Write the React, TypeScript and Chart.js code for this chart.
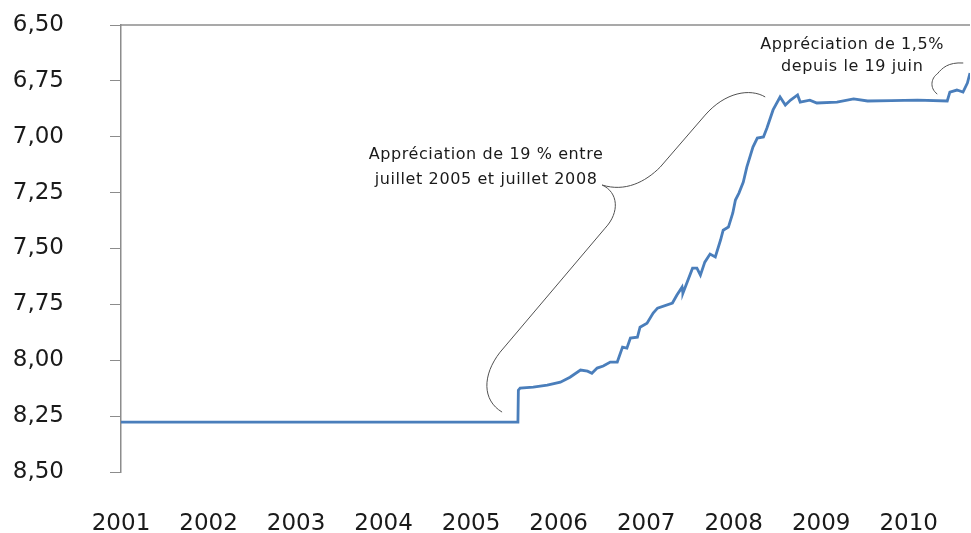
import React, { useEffect, useRef } from "react";
import { Chart, registerables } from "chart.js";

Chart.register(...registerables);

// Daily USD/CNY fixing (decimal year, yuan per dollar)
const years = [
  2001.0, 2002.0, 2003.0, 2004.0, 2005.0, 2005.535,
  2005.54, 2005.56, 2005.71, 2005.87, 2006.02, 2006.13, 2006.25, 2006.33, 2006.38, 2006.44,
  2006.51, 2006.59, 2006.67, 2006.73, 2006.78, 2006.82, 2006.9, 2006.93, 2007.01, 2007.08,
  2007.13, 2007.3, 2007.35, 2007.41, 2007.42, 2007.53, 2007.58, 2007.62, 2007.67, 2007.73,
  2007.79, 2007.85, 2007.88, 2007.94, 2007.99, 2008.02, 2008.06, 2008.11, 2008.15, 2008.22,
  2008.27, 2008.34, 2008.38, 2008.45, 2008.53, 2008.59, 2008.65, 2008.73, 2008.76, 2008.87,
  2008.95, 2009.18, 2009.37, 2009.53, 2009.8, 2010.1, 2010.44, 2010.47, 2010.55, 2010.62,
  2010.67, 2010.7,
];
const rates = [
  8.277, 8.277, 8.277, 8.277, 8.277, 8.277,
  8.134, 8.125, 8.12, 8.111, 8.098, 8.076, 8.044, 8.049, 8.058, 8.035,
  8.026, 8.008, 8.008, 7.941, 7.946, 7.901, 7.897, 7.852, 7.834, 7.789,
  7.767, 7.744, 7.709, 7.673, 7.7, 7.588, 7.588, 7.619, 7.561, 7.525,
  7.538, 7.462, 7.418, 7.404, 7.341, 7.283, 7.252, 7.203, 7.136, 7.046,
  7.006, 7.001, 6.961, 6.88, 6.822, 6.858, 6.836, 6.813, 6.845, 6.836,
  6.849, 6.845, 6.831, 6.84, 6.838, 6.836, 6.84, 6.8, 6.791, 6.8,
  6.76, 6.715,
];

const yearTicks = [2001, 2002, 2003, 2004, 2005, 2006, 2007, 2008, 2009, 2010];
const rateTicks = [6.5, 6.75, 7.0, 7.25, 7.5, 7.75, 8.0, 8.25, 8.5];
const xMin = 2001;
const xMax = 2010.7;

const note1Lines = ["Appréciation de 19 % entre", "juillet 2005 et juillet 2008"];
const note1Anchor = [2005.171, 7.082];
const note2Lines = ["Appréciation de 1,5%", "depuis le 19 juin"];
const note2Anchor = [2009.354, 6.59];

// Brace paths in data units: ["M", x, y] | ["L", x, y] | ["C", c1x, c1y, c2x, c2y, x, y]
const brace1: any[] = [
  ["M", 2006.497, 7.216],
  ["C", 2006.76, 7.248, 2006.989, 7.203, 2007.16, 7.136],
  ["L", 2007.674, 6.903],
  ["C", 2007.903, 6.8, 2008.189, 6.782, 2008.36, 6.822],
  ["M", 2006.497, 7.216],
  ["C", 2006.68, 7.248, 2006.703, 7.337, 2006.531, 7.409],
  ["L", 2005.331, 7.964],
  ["C", 2005.126, 8.067, 2005.126, 8.179, 2005.354, 8.232],
];
const brace2: any[] = [
  ["M", 2010.326, 6.809],
  ["C", 2010.234, 6.782, 2010.257, 6.737, 2010.326, 6.719],
  ["C", 2010.383, 6.692, 2010.451, 6.666, 2010.623, 6.67],
];

const annotationPlugin = {
  id: "notes",
  afterDraw(chart: any) {
    const { ctx, chartArea } = chart;
    const xs = chart.scales.x;
    const ys = chart.scales.y;
    const px = (v: number) => xs.getPixelForValue(v);
    const py = (v: number) => ys.getPixelForValue(v);
    ctx.save();
    // top frame line
    ctx.strokeStyle = "#8c8c8c";
    ctx.lineWidth = 1.5;
    ctx.beginPath();
    ctx.moveTo(chartArea.left, chartArea.top);
    ctx.lineTo(chartArea.right, chartArea.top);
    ctx.stroke();

    const drawPath = (path: any[]) => {
      ctx.beginPath();
      for (const seg of path) {
        if (seg[0] === "M") ctx.moveTo(px(seg[1]), py(seg[2]));
        else if (seg[0] === "L") ctx.lineTo(px(seg[1]), py(seg[2]));
        else ctx.bezierCurveTo(px(seg[1]), py(seg[2]), px(seg[3]), py(seg[4]), px(seg[5]), py(seg[6]));
      }
      ctx.stroke();
    };
    ctx.strokeStyle = "#505050";
    ctx.lineWidth = 1;
    drawPath(brace1);
    drawPath(brace2);

    ctx.fillStyle = "#1a1a1a";
    ctx.font = "16px 'DejaVu Sans'";
    (ctx as any).letterSpacing = "0.6px";
    ctx.textAlign = "center";
    ctx.textBaseline = "middle";
    const drawNote = (lines: string[], anchor: number[], gap: number) => {
      lines.forEach((t, i) => ctx.fillText(t, px(anchor[0]), py(anchor[1]) + i * gap));
    };
    drawNote(note1Lines, note1Anchor, 25);
    drawNote(note2Lines, note2Anchor, 22);
    ctx.restore();
  },
};

export default function App() {
  const ref = useRef<HTMLCanvasElement>(null);
  useEffect(() => {
    if (!ref.current) return;
    Chart.defaults.font.family = "'DejaVu Sans'";
    const chart = new Chart(ref.current, {
      type: "line",
      data: {
        datasets: [
          {
            data: years.map((y, i) => ({ x: y, y: rates[i] })),
            borderColor: "#4a7ebb",
            borderWidth: 2.8,
            pointRadius: 0,
            tension: 0,
            fill: false,
          },
        ],
      },
      options: {
        animation: false,
        responsive: false,
        layout: { padding: { top: 25, right: 1, left: 0, bottom: 0 } },
        plugins: { legend: { display: false }, tooltip: { enabled: false } },
        scales: {
          x: {
            type: "linear",
            min: xMin,
            max: xMax,
            afterBuildTicks: (s: any) => {
              s.ticks = yearTicks.map((v) => ({ value: v }));
            },
            afterFit: (s: any) => {
              s.height = 61;
              s.paddingLeft = 0;
              s.paddingRight = 0;
            },
            grid: { display: false },
            border: { display: false },
            ticks: {
              autoSkip: false,
              maxRotation: 0,
              padding: 30,
              color: "#1a1a1a",
              font: { size: 23 },
              callback: (v: any) => String(v),
            },
          },
          y: {
            type: "linear",
            reverse: true,
            min: 6.5,
            max: 8.5,
            afterBuildTicks: (s: any) => {
              s.ticks = rateTicks.map((v) => ({ value: v }));
            },
            afterFit: (s: any) => {
              s.width = 121;
              s.paddingTop = 0;
              s.paddingBottom = 0;
            },
            grid: {
              drawOnChartArea: false,
              drawTicks: true,
              tickLength: 11,
              color: "#8c8c8c",
              lineWidth: 1,
            },
            border: { display: true, color: "#8c8c8c", width: 1.5 },
            ticks: {
              padding: 46,
              color: "#1a1a1a",
              font: { size: 23 },
              callback: (v: any) => Number(v).toFixed(2).replace(".", ","),
            },
          },
        },
      },
      plugins: [annotationPlugin],
    });
    return () => chart.destroy();
  }, []);
  return (
    <div style={{ position: "absolute", left: 0, top: 0, width: 971, height: 533, background: "#fff" }}>
      <canvas ref={ref} width={971} height={533} />
    </div>
  );
}
